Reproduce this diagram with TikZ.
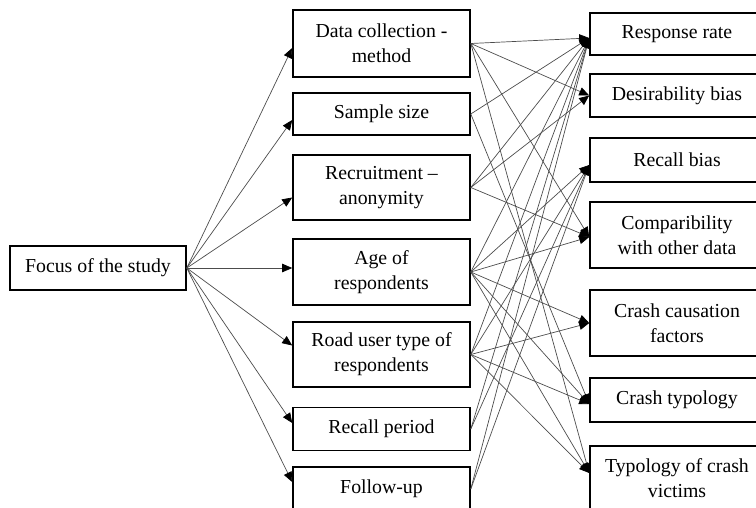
\documentclass[tikz,border=0pt]{standalone}
\usepackage{fontspec}
\setmainfont{Liberation Serif}
\usetikzlibrary{arrows.meta}
\begin{document}
\begin{tikzpicture}[x=1pt,y=-1pt,
  box/.style={draw=black,line width=1.6pt,align=center,inner sep=0pt,
    font=\fontsize{19.8}{25}\selectfont},
  lbox/.style={box,minimum width=176pt},
  mbox/.style={box,minimum width=177pt},
  rbox/.style={box,minimum width=174pt},
  conn/.style={draw=black!70,line width=0.7pt,-{Triangle[length=10pt,width=8.5pt,color=black]}}]
\useasboundingbox (0,0) rectangle (756,507);
% left
\node[lbox,minimum height=44pt] (focus) at (98,268) {Focus of the study};
% middle
\node[mbox,minimum height=67pt] (m1) at (381.5,43.5) {Data collection -\\method};
\node[mbox,minimum height=42pt] (m2) at (381.5,114) {Sample size};
\node[mbox,minimum height=65pt] (m3) at (381.5,187.5) {Recruitment –\\anonymity};
\node[mbox,minimum height=66pt] (m4) at (381.5,272) {Age of\\respondents};
\node[mbox,minimum height=65pt] (m5) at (381.5,354.5) {Road user type of\\respondents};
\node[mbox,minimum height=43pt] (m6) at (381.5,429) {Recall period};
\node[mbox,minimum height=44pt] (m7) at (381.5,489) {Follow-up};
% right
\node[rbox,minimum height=42pt] (r1) at (677,34) {Response rate};
\node[rbox,minimum height=43pt] (r2) at (677,95.5) {Desirability bias};
\node[rbox,minimum height=44pt] (r3) at (677,160) {Recall bias};
\node[rbox,minimum height=66pt] (r4) at (677,235) {Comparibility\\with other data};
\node[rbox,minimum height=66pt] (r5) at (677,323) {Crash causation\\factors};
\node[rbox,minimum height=44pt] (r6) at (677,400) {Crash typology};
\node[rbox,minimum height=64pt] (r7) at (677,478) {Typology of crash\\victims};
% arrow targets on the right boxes
\coordinate (t1) at ([yshift=-4pt]r1.west);
\coordinate (t2) at (r2.west);
\coordinate (t3) at ([yshift=-5pt]r3.west);
\coordinate (t4) at ([yshift=-2pt]r4.west);
\coordinate (t5) at (r5.west);
\coordinate (t6) at ([yshift=-4pt]r6.west);
\coordinate (t7) at ([yshift=5pt]r7.west);
% focus -> middle
\draw[conn] (focus.east) -- ([yshift=-4.5pt]m1.west);
\draw[conn] (focus.east) -- ([yshift=-6pt]m2.west);
\draw[conn] (focus.east) -- ([yshift=-10pt]m3.west);
\draw[conn] (focus.east) -- ([yshift=4pt]m4.west);
\draw[conn] (focus.east) -- ([yshift=9pt]m5.west);
\draw[conn] (focus.east) -- ([yshift=6pt]m6.west);
\draw[conn] (focus.east) -- ([yshift=7pt]m7.west);
% middle -> right
\foreach \m/\t in {m1/t1,m1/t2,m1/t4,m1/t7,
                   m2/t1,m2/t6,
                   m3/t1,m3/t2,m3/t4,
                   m4/t1,m4/t3,m4/t4,m4/t5,m4/t6,m4/t7,
                   m5/t1,m5/t3,m5/t5,m5/t6,m5/t7,
                   m6/t1,m6/t3,
                   m7/t1,m7/t3}
  \draw[conn] (\m.east) -- (\t);
\end{tikzpicture}
\end{document}
